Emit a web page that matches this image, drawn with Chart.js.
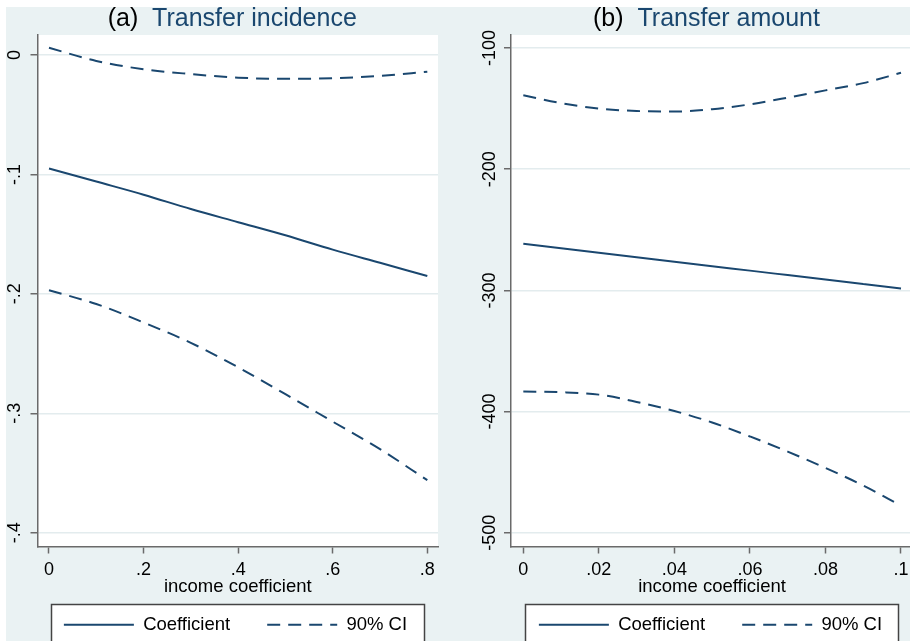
<!DOCTYPE html>
<html>
<head>
<meta charset="utf-8">
<script src="https://cdn.jsdelivr.net/npm/chart.js@4.4.1/dist/chart.umd.min.js"></script>
<style>
  html, body { margin: 0; padding: 0; background: #fff; overflow: hidden; width: 910px; height: 641px; }
  #bg { position: absolute; left: 6px; top: 7px; width: 904px; height: 634px; background: #EAF2F3; }
  canvas { position: absolute; top: 7px; }
  #panel-a { left: 6px; }
  #panel-b { left: 465px; }
</style>
</head>
<body>
<div id="bg"></div>
<canvas id="panel-a" width="459" height="637"></canvas>
<canvas id="panel-b" width="491" height="637"></canvas>
<script>
// (a) transfer incidence
var incomeA = [0, .1, .2, .3, .4, .5, .6, .7, .8];
var coefA  = [-0.095, -0.106, -0.117, -0.129, -0.140, -0.151, -0.163, -0.174, -0.185];
var upperA = [0.006, -0.005, -0.012, -0.016, -0.019, -0.020, -0.0195, -0.0175, -0.014];
var lowerA = [-0.197, -0.2085, -0.224, -0.241, -0.2615, -0.284, -0.307, -0.330, -0.356];
var xTicksA = [0, .2, .4, .6, .8];
var yTicksA = [0, -.1, -.2, -.3, -.4];

// (b) transfer amount
var incomeB = [0, .01, .02, .03, .04, .05, .06, .07, .08, .09, .1];
var coefB  = [-261.6, -265.3, -269.0, -272.7, -276.4, -280.1, -283.7, -287.4, -291.1, -294.8, -298.5];
var upperB = [-139, -145.5, -150, -152, -152.5, -150.5, -146.5, -141, -135, -129, -120.5];
var lowerB = [-383.5, -384, -386, -392, -399.5, -409, -420.5, -433, -446.5, -461, -477.5];
var xTicksB = [0, .02, .04, .06, .08, .1];
var yTicksB = [-100, -200, -300, -400, -500];

var seriesNames = ["Coefficient", "90% CI"];
var xTitle = "income coefficient";

var navy = "#1A476F";
var axisGray = "#6A6A6A";
Chart.defaults.font.family = "'Liberation Sans', Arial, sans-serif";
Chart.defaults.color = "#000";

function pts(xs, ys) {
    return xs.map(function (x, i) { return { x: x, y: ys[i] }; });
}

// stata style numbers: .2, -.1
function stataNum(v) {
    return String(+v.toFixed(4)).replace(/^(-?)0\./, "$1.");
}

// white plot region, framed legend, two-colour title
var stataFrame = {
    id: "stataFrame",
    beforeDraw: function (chart, args, opts) {
        var c = chart.ctx, a = chart.chartArea, lg = chart.legend;
        c.save();
        c.fillStyle = "#fff";
        c.fillRect(a.left, a.top, a.right - a.left, a.bottom - a.top);

        var cx = (lg.left + lg.right) / 2 + opts.boxShift;
        var top = lg.top + opts.boxTop;
        c.fillRect(cx - 186.5, top, 373, 60);
        c.strokeStyle = "#444";
        c.lineWidth = 1.5;
        c.strokeRect(cx - 186.5, top, 373, 60);

        c.font = "25px 'Liberation Sans', Arial, sans-serif";
        c.textBaseline = "alphabetic";
        var tag = opts.tag + "  ";
        var wTag = c.measureText(tag).width;
        var wText = c.measureText(opts.text).width;
        var x0 = (a.left + a.right) / 2 - 5.5 - (wTag + wText) / 2;
        c.fillStyle = "#000";
        c.fillText(tag, x0, 18.5);
        c.fillStyle = navy;
        c.fillText(opts.text, x0 + wTag, 18.5);
        c.restore();
    }
};

// keep the dash of each series in the legend sample
function legendItems(chart) {
    var items = Chart.defaults.plugins.legend.labels.generateLabels(chart);
    items.forEach(function (it) {
        it.lineDash = chart.data.datasets[it.datasetIndex].borderDash || [];
    });
    return items;
}

function panel(id, d) {
    return new Chart(document.getElementById(id), {
        type: "line",
        data: {
            datasets: [
                { label: seriesNames[0], data: pts(d.x, d.coef), borderColor: navy, backgroundColor: navy, borderWidth: 2 },
                { label: seriesNames[1], data: pts(d.x, d.upper), borderColor: navy, backgroundColor: navy, borderWidth: 2, borderDash: [13, 8] },
                { label: seriesNames[1], data: pts(d.x, d.lower), borderColor: navy, backgroundColor: navy, borderWidth: 2, borderDash: [13, 8] }
            ]
        },
        options: {
            responsive: false,
            animation: false,
            layout: { padding: { top: 28, left: 0, right: 0, bottom: 0 } },
            elements: {
                point: { radius: 0 },
                line: { cubicInterpolationMode: "monotone" }
            },
            plugins: {
                title: { display: false },
                tooltip: { enabled: false },
                legend: {
                    position: "bottom",
                    labels: {
                        usePointStyle: true,
                        pointStyle: "line",
                        pointStyleWidth: 70,
                        padding: 37,
                        color: "#000",
                        font: { size: 18.5 },
                        generateLabels: legendItems,
                        filter: function (item) { return item.datasetIndex < 2; }
                    }
                },
                stataFrame: { tag: d.tag, text: d.title, boxShift: d.boxShift, boxTop: 26 }
            },
            scales: {
                x: {
                    type: "linear",
                    min: d.xMin,
                    max: d.xMax,
                    afterBuildTicks: function (s) { s.ticks = d.xTicks.map(function (v) { return { value: v }; }); },
                    afterFit: function (s) { s.height = 32; },
                    grid: { drawOnChartArea: false, tickLength: 7, tickColor: axisGray, tickWidth: 1.5 },
                    border: { color: axisGray, width: 1.5 },
                    ticks: { padding: 6, font: { size: 18 }, maxRotation: 0, autoSkip: false, callback: stataNum },
                    title: { display: true, text: xTitle, font: { size: 18.5 }, padding: { top: 0, bottom: -20 } }
                },
                y: {
                    type: "linear",
                    position: "left",
                    min: d.yMin,
                    max: d.yMax,
                    afterBuildTicks: function (s) { s.ticks = d.yTicks.map(function (v) { return { value: v }; }); },
                    afterFit: function (s) { s.width = d.yWidth; },
                    grid: { color: "#E3ECEE", lineWidth: 1.5, tickLength: 7, tickColor: axisGray, tickWidth: 1.5 },
                    border: { color: axisGray, width: 1.5 },
                    ticks: { padding: d.yPad, crossAlign: "center", minRotation: 90, maxRotation: 90, font: { size: 18 }, autoSkip: false, callback: stataNum }
                },
                pad: {
                    type: "linear",
                    position: "right",
                    grid: { display: false },
                    border: { display: false },
                    ticks: { display: false },
                    afterFit: function (s) { s.width = d.padRight; }
                }
            }
        },
        plugins: [stataFrame]
    });
}

panel("panel-a", {
    x: incomeA, coef: coefA, upper: upperA, lower: lowerA,
    xTicks: xTicksA, yTicks: yTicksA,
    xMin: -0.0243, xMax: 0.8226, yMin: -0.4115, yMax: 0.0167,
    yWidth: 31.5, yPad: 5, padRight: 27, boxShift: 2.5,
    tag: "(a)", title: "Transfer incidence"
});

panel("panel-b", {
    x: incomeB, coef: coefB, upper: upperB, lower: lowerB,
    xTicks: xTicksB, yTicks: yTicksB,
    xMin: -0.00326, xMax: 0.10318, yMin: -511.3, yMax: -89.3,
    yWidth: 46, yPad: -4, padRight: 43, boxShift: 1.5,
    tag: "(b)", title: "Transfer amount"
});
</script>
</body>
</html>
